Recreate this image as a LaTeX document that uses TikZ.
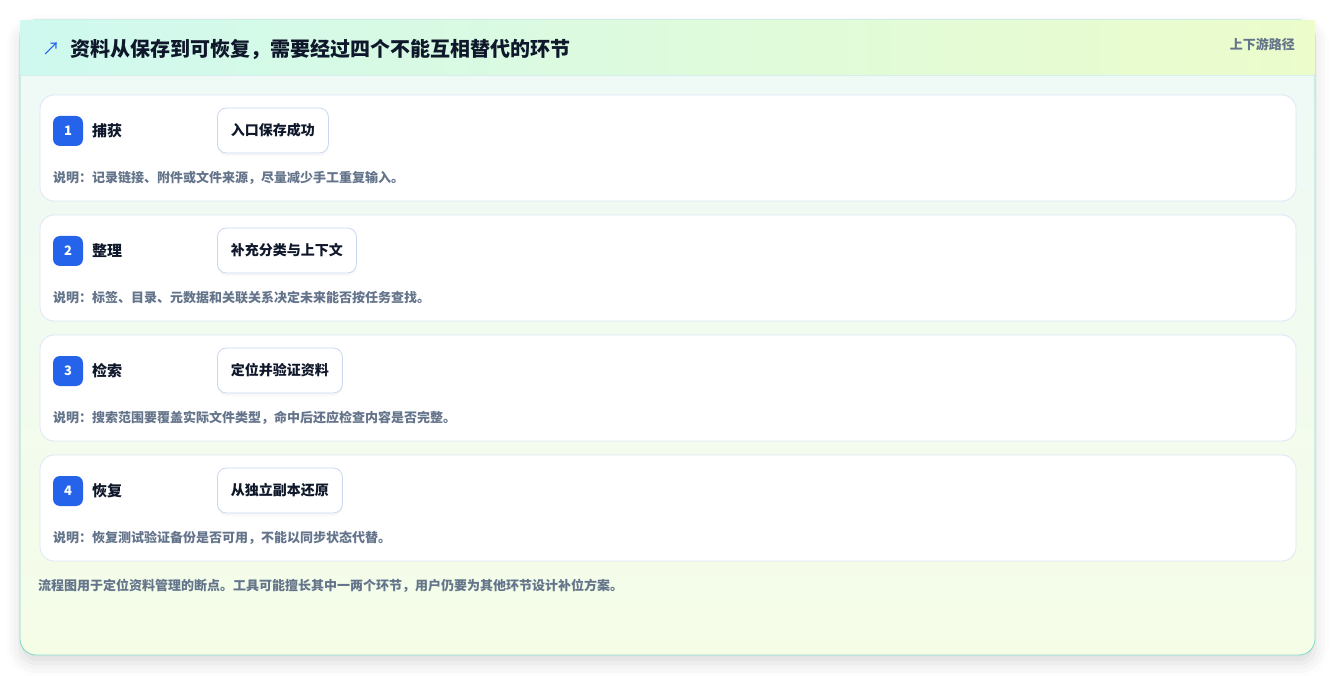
\documentclass[tikz,border=0pt]{standalone}
\usepackage{fontspec}
\setmainfont{Noto Sans CJK SC}
\usetikzlibrary{shadows, shadows.blur}

\definecolor{cardline}{HTML}{86DCCB}
\definecolor{headL}{HTML}{CFF9EF}
\definecolor{headR}{HTML}{ECFCCB}
\definecolor{headline}{HTML}{D6EEEC}
\definecolor{bodyT}{HTML}{EEF9F8}
\definecolor{bodyB}{HTML}{F5FDE7}
\definecolor{rowline}{HTML}{DCE8F4}
\definecolor{pillline}{HTML}{C9D8F2}
\definecolor{badgeblue}{HTML}{2563EB}
\definecolor{ink}{HTML}{0F172A}
\definecolor{slate}{HTML}{64748B}

\begin{document}
\begin{tikzpicture}[
        x=1pt, y=-1pt,
        rowbox/.style={draw=rowline, fill=white, rounded corners=14pt, line width=0.8pt},
        badge/.style={fill=badgeblue, rounded corners=7pt, minimum size=30pt, inner sep=0pt, text=white, font=\bfseries\fontsize{13}{15}\selectfont},
        stage/.style={anchor=west, inner sep=0pt, text=ink, font=\bfseries\fontsize{15}{17}\selectfont},
        pill/.style={anchor=west, draw=pillline, fill=white, rounded corners=9pt, minimum height=45pt, inner xsep=13.5pt, line width=0.8pt, text=ink, font=\bfseries\fontsize{14}{16}\selectfont,
          drop shadow={shadow xshift=0pt, shadow yshift=-3pt, opacity=0.05}},
        note/.style={anchor=west, inner sep=0pt, text=slate, font=\bfseries\fontsize{13}{15}\selectfont},
      ]

      \useasboundingbox (0,0) rectangle (1336,676);

      % card
      \path[top color=bodyT, bottom color=bodyB, rounded corners=16pt,
        blur shadow={shadow xshift=0pt, shadow yshift=-8pt, shadow blur radius=14pt, shadow opacity=14}]
        (20,20) rectangle (1315,655);
      \draw[draw=cardline, line width=0.9pt, rounded corners=16pt] (20,20) rectangle (1315,655);
      \path[left color=headL, right color=headR] (20.5,20.5) rectangle (1314.5,75);
      \draw[headline, line width=0.8pt] (21,75) -- (1314,75);

      \node[text=badgeblue, font=\fontsize{18}{20}\selectfont, inner sep=0pt] (arrow) at (51,49) {↗};
      \node[anchor=west, inner sep=0pt, text=ink, font=\bfseries\fontsize{20}{24}\selectfont] (title) at (70,49) {资料从保存到可恢复，需要经过四个不能互相替代的环节};
      \node[anchor=east, inner sep=0pt, text=slate, font=\bfseries\fontsize{13}{15}\selectfont] (path) at (1295,44) {上下游路径};

      % rows
      \foreach \n/\name/\act/\desc in {
          1/捕获/入口保存成功/说明：记录链接、附件或文件来源，尽量减少手工重复输入。,
          2/整理/补充分类与上下文/说明：标签、目录、元数据和关联关系决定未来能否按任务查找。,
          3/检索/定位并验证资料/说明：搜索范围要覆盖实际文件类型，命中后还应检查内容是否完整。,
          4/恢复/从独立副本还原/说明：恢复测试验证备份是否可用，不能以同步状态代替。} {
        \pgfmathsetmacro{\top}{95+120*(\n-1)}
        \draw[rowbox] (40,\top) rectangle (1296,\top+106);
        \node[badge] (badge\n) at (68,\top+36) {\n};
        \node[stage] (stage\n) at (92,\top+36) {\name};
        \node[pill] (act\n) at (217,\top+35.5) {\act};
        \node[note] (note\n) at (53,\top+83) {\desc};
      }

      \node[note] (foot) at (38,586) {流程图用于定位资料管理的断点。工具可能擅长其中一两个环节，用户仍要为其他环节设计补位方案。};

    \end{tikzpicture}
\end{document}
